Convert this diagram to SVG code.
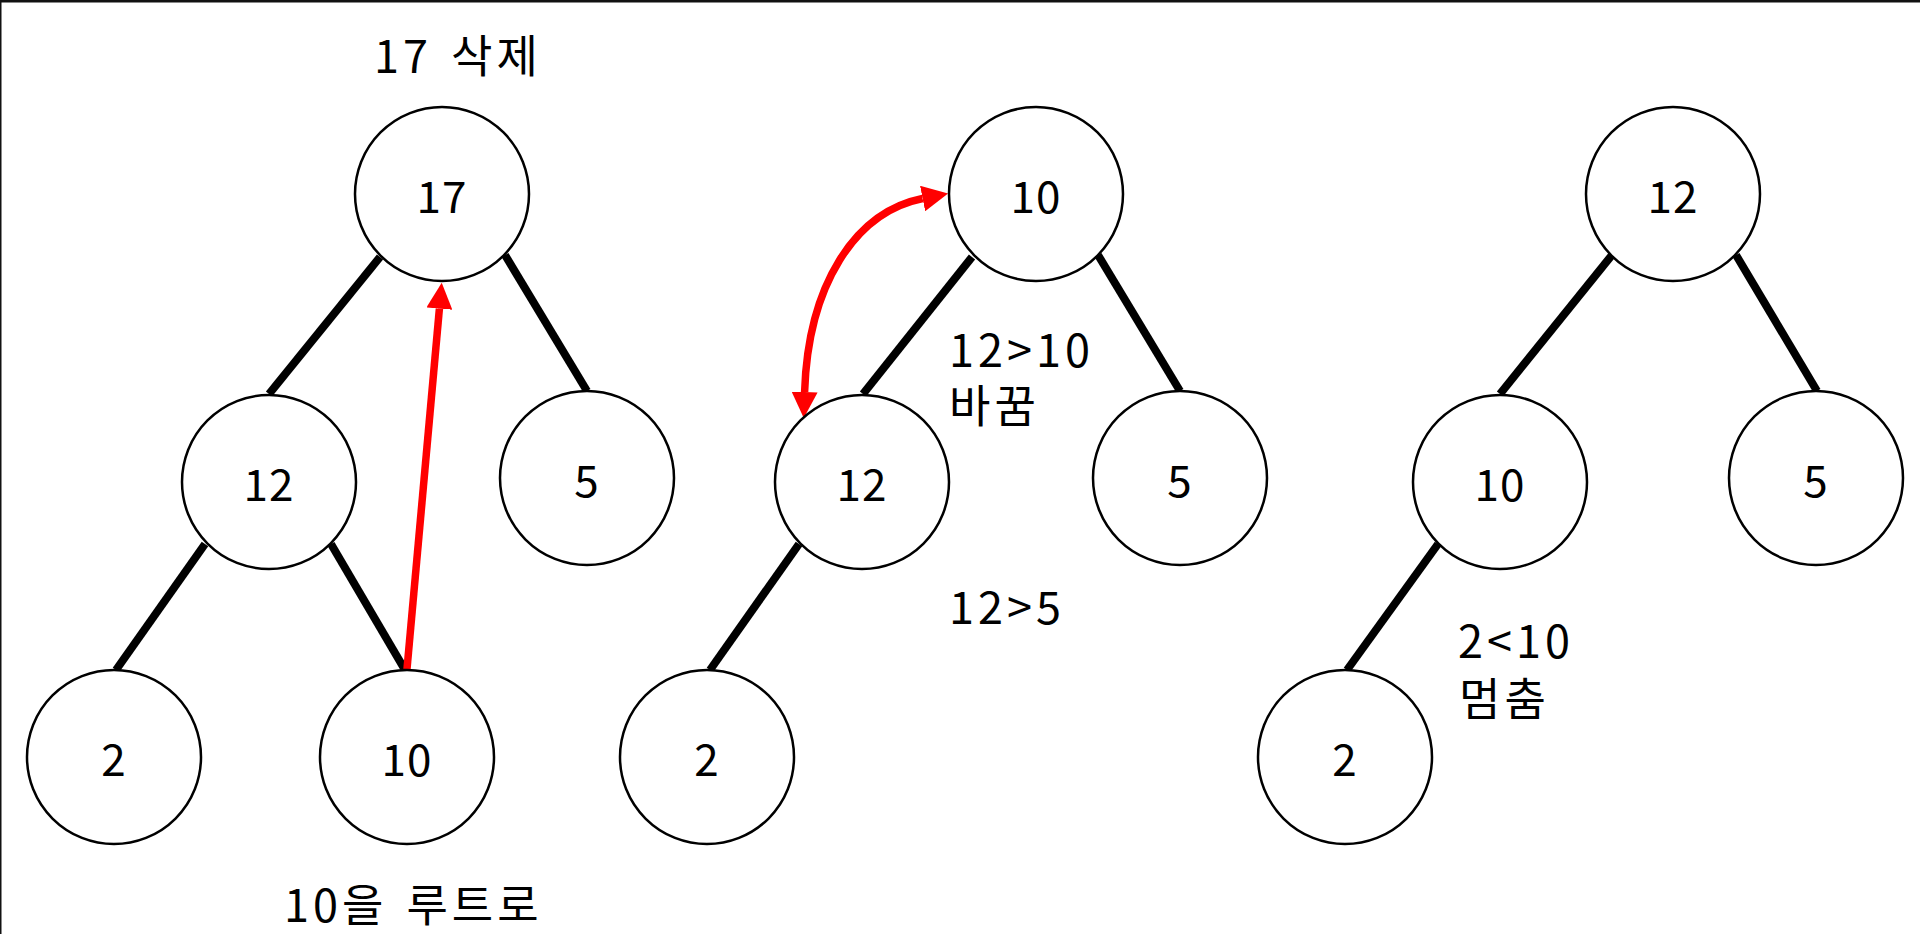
<svg xmlns="http://www.w3.org/2000/svg" width="1920" height="934" viewBox="0 0 1920 934">
<style>
.node circle{fill:#fff;stroke:#000;stroke-width:2.5}
.node text,.lbl{font-family:"Noto Sans CJK KR","Noto Sans",sans-serif;fill:#000}
.node text{text-anchor:middle;font-size:44px;letter-spacing:1px}
.lbl{font-size:45px;letter-spacing:4px;word-spacing:5px}
.edge{stroke:#000;stroke-width:8;fill:none}
.red{stroke:#ff0000;stroke-width:7.5;fill:none}
</style>
<defs>
<marker id="ah" markerUnits="userSpaceOnUse" viewBox="0 -13 26 26" refX="0" refY="0" markerWidth="26" markerHeight="26" orient="auto-start-reverse">
<path d="M0,-13 L26,0 L0,13 z" fill="#ff0000"/>
</marker>
</defs>
<rect x="0" y="0" width="1920" height="934" fill="#fff"/>
<rect x="0" y="0" width="1920" height="2.5" fill="#111"/>
<rect x="0" y="0" width="1.5" height="934" fill="#111"/>

<g id="connectors">
<line class="edge" x1="380" y1="257" x2="269" y2="394"/>
<line class="edge" x1="505" y1="255" x2="587" y2="391"/>
<line class="edge" x1="205" y1="544" x2="116" y2="670"/>
<line class="edge" x1="331" y1="544" x2="405" y2="670"/>
<line class="edge" x1="972" y1="257" x2="863" y2="394"/>
<line class="edge" x1="1098" y1="255" x2="1180" y2="391"/>
<line class="edge" x1="799" y1="544" x2="710" y2="670"/>
<line class="edge" x1="1612" y1="255" x2="1500" y2="394"/>
<line class="edge" x1="1736" y1="255" x2="1817" y2="391"/>
<line class="edge" x1="1438" y1="544" x2="1347" y2="670"/>
<line class="red" x1="407" y1="669" x2="439.4" y2="308.6" marker-end="url(#ah)"/>
<path class="red" d="M922.6,198.5 C855,212 808,285 804.6,392" marker-start="url(#ah)" marker-end="url(#ah)"/>
</g>

<g id="t1-17" class="node"><circle cx="442" cy="194" r="87"/><text x="442" y="213">17</text></g>
<g id="t1-12" class="node"><circle cx="269" cy="482" r="87"/><text x="269" y="501">12</text></g>
<g id="t1-5" class="node"><circle cx="587" cy="478" r="87"/><text x="587" y="497">5</text></g>
<g id="t1-2" class="node"><circle cx="114" cy="757" r="87"/><text x="114" y="776">2</text></g>
<g id="t1-10" class="node"><circle cx="407" cy="757" r="87"/><text x="407" y="776">10</text></g>

<g id="t2-10" class="node"><circle cx="1036" cy="194" r="87"/><text x="1036" y="213">10</text></g>
<g id="t2-12" class="node"><circle cx="862" cy="482" r="87"/><text x="862" y="501">12</text></g>
<g id="t2-5" class="node"><circle cx="1180" cy="478" r="87"/><text x="1180" y="497">5</text></g>
<g id="t2-2" class="node"><circle cx="707" cy="757" r="87"/><text x="707" y="776">2</text></g>

<g id="t3-12" class="node"><circle cx="1673" cy="194" r="87"/><text x="1673" y="213">12</text></g>
<g id="t3-10" class="node"><circle cx="1500" cy="482" r="87"/><text x="1500" y="501">10</text></g>
<g id="t3-5" class="node"><circle cx="1816" cy="478" r="87"/><text x="1816" y="497">5</text></g>
<g id="t3-2" class="node"><circle cx="1345" cy="757" r="87"/><text x="1345" y="776">2</text></g>

<g id="labels">
<text class="lbl" x="374" y="73">17 삭제</text>
<text class="lbl" x="949" y="367">12&gt;10<tspan x="949" y="423">바꿈</tspan></text>
<text class="lbl" x="949" y="624">12&gt;5</text>
<text class="lbl" x="1458" y="658">2&lt;10<tspan x="1459" y="716">멈춤</tspan></text>
<text class="lbl" x="284" y="922">10을 루트로</text>
</g>
</svg>
